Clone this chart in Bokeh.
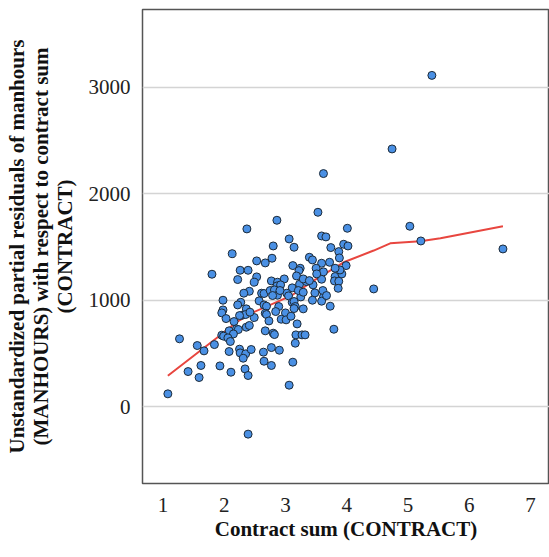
from bokeh.plotting import figure
from bokeh.models import Range1d, FixedTicker
from bokeh.embed import file_html
from bokeh.resources import INLINE

# Contract sum (CONTRACT) for each project
contract = [
    5.39, 4.74, 3.62, 3.53, 2.86, 2.37, 4.01, 5.03, 3.59, 3.66,
    5.21, 6.55, 3.06, 3.14, 2.80, 3.95, 4.02, 3.74, 3.87, 3.88,
    2.13, 3.39, 3.44, 2.78, 2.67, 2.53, 3.59, 3.72, 3.12, 3.24,
    3.22, 2.26, 2.39, 3.99, 3.50, 1.80, 2.53, 2.22, 2.49, 2.77,
    2.87, 2.98, 3.18, 3.81, 3.92, 3.59, 3.80, 3.87, 3.86, 4.44,
    2.86, 2.92, 3.11, 3.23, 3.34, 3.45, 3.48, 2.41, 2.32, 2.61,
    2.65, 2.75, 2.82, 2.87, 3.02, 3.05, 3.25, 3.62, 3.44, 3.59,
    1.98, 2.27, 2.22, 2.57, 2.65, 2.69, 2.89, 3.11, 3.14, 3.16,
    3.73, 1.98, 1.96, 2.36, 2.84, 3.00, 3.14, 3.29, 2.03, 2.16,
    2.29, 2.35, 2.49, 2.67, 2.69, 2.73, 2.93, 3.01, 3.09, 3.19,
    2.36, 2.41, 2.20, 2.23, 2.08, 1.96, 1.99, 2.15, 2.06, 2.10,
    2.67, 2.80, 2.82, 3.17, 3.27, 3.32, 3.79, 3.16, 1.27, 1.56,
    1.67, 1.84, 2.08, 2.25, 2.26, 2.35, 2.31, 2.44, 2.64, 2.77,
    2.90, 2.65, 2.77, 3.12, 1.41, 1.62, 1.93, 1.59, 2.11, 2.34,
    2.39, 3.06, 1.08, 2.39, 3.62, 3.51, 3.89, 3.29, 3.39, 2.91,
    2.79, 3.21, 3.29, 3.61, 3.67, 2.42, 2.25, 3.81,
]

# Unstandardized partial residuals of MANHOURS
residual = [
    3109, 2419, 2188, 1825, 1750, 1669, 1675, 1694, 1603, 1594,
    1556, 1481, 1575, 1497, 1509, 1525, 1509, 1494, 1456, 1397,
    1437, 1403, 1378, 1394, 1350, 1369, 1347, 1356, 1325, 1300,
    1278, 1281, 1281, 1325, 1300, 1244, 1219, 1194, 1169, 1181,
    1169, 1200, 1228, 1222, 1247, 1197, 1181, 1178, 1112, 1106,
    1134, 1144, 1116, 1150, 1175, 1144, 1069, 1084, 1066, 1066,
    1063, 1091, 1097, 1047, 1066, 1041, 1031, 1031, 1000, 991,
    1000, 981, 956, 994, 956, 944, 941, 981, 988, 941,
    944, 909, 881, 919, 894, 881, 922, 919, 828, 800,
    859, 866, 838, 878, 866, 806, 822, 816, 850, 778,
    747, 763, 731, 725, 713, 672, 663, 684, 647, 613,
    713, 691, 678, 675, 675, 675, 728, 597, 638, 575,
    525, 584, 519, 541, 506, 497, 456, 538, 513, 556,
    531, 428, 388, 419, 331, 388, 384, 275, 325, 356,
    294, 203, 122, -256, 1266, 1247, 1284, 1200, 1184, 1091,
    1044, 1091, 1075, 1091, 1044, 888, 856, 1300,
]

# Smoothed fit line through the residuals
fit_x = [1.08, 1.93, 2.20, 2.48, 2.91, 3.10, 3.46, 3.95, 4.44, 4.71, 5.20, 5.53, 6.55]
fit_y = [291, 669, 794, 888, 997, 1044, 1184, 1356, 1466, 1534, 1553, 1581, 1694]

x_ticks = [1, 2, 3, 4, 5, 6, 7]
y_ticks = [0, 1000, 2000, 3000]

SERIF = "Liberation Serif"

p = figure(
    width=549, height=557,
    output_backend="svg", toolbar_location=None,
    x_range=Range1d(0.666, 7.31), y_range=Range1d(-719, 3727),
    min_border_left=142, min_border_right=0,
    min_border_top=9, min_border_bottom=74,
    background_fill_color="white", border_fill_color="white",
)

p.outline_line_color = "#555555"
p.outline_line_width = 1.5

p.xgrid.visible = False
p.ygrid.grid_line_color = "#d4d4d4"
p.ygrid.grid_line_width = 1.5
p.ygrid.ticker = FixedTicker(ticks=y_ticks)

for ax in (p.xaxis, p.yaxis):
    ax.axis_line_color = None
    ax.major_tick_line_color = None
    ax.minor_tick_line_color = None
    ax.major_label_text_font = SERIF
    ax.major_label_text_font_size = "21px"
    ax.major_label_text_color = "#222222"
    ax.axis_label_text_font = SERIF
    ax.axis_label_text_font_style = "bold"
    ax.axis_label_text_font_size = "21px"
    ax.axis_label_text_color = "#111111"

p.xaxis.ticker = FixedTicker(ticks=x_ticks)
p.yaxis.ticker = FixedTicker(ticks=y_ticks)
p.xaxis.major_label_standoff = 8
p.yaxis.major_label_standoff = 6
p.xaxis.axis_label_standoff = 2
p.yaxis.axis_label_standoff = 9
p.yaxis.axis_label_text_line_height = 1.0

p.xaxis.axis_label = "Contract sum (CONTRACT)"
p.yaxis.axis_label = ("Unstandardized partial residuals of manhours\n"
                      "(MANHOURS) with respect to contract sum\n"
                      "(CONTRACT)")

p.line(fit_x, fit_y, line_color="#e8463f", line_width=2)
p.scatter(contract, residual, size=8, fill_color="#4a90e4",
          line_color="#1c2a38", line_width=1)

open("out.html", "w").write(file_html(p, INLINE))
